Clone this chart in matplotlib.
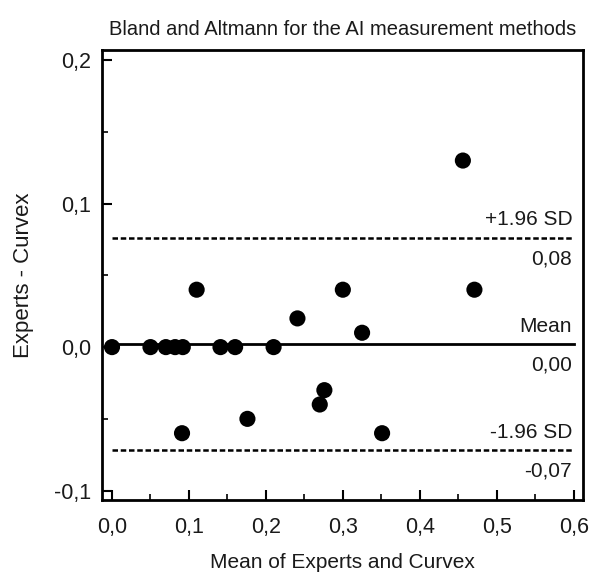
import numpy as np
import matplotlib.pyplot as plt
from matplotlib.ticker import FuncFormatter, MultipleLocator

plt.rcParams['font.family'] = ['Liberation Sans', 'DejaVu Sans']

# Datos (media y diferencia)
media = [0.0, 0.05, 0.07, 0.082, 0.092, 0.11, 0.141, 0.16, 0.21, 0.241,
         0.30, 0.325, 0.471, 0.456, 0.091, 0.176, 0.270, 0.276, 0.351]
diferencia = [0.0, 0.0, 0.0, 0.0, 0.0, 0.04, 0.0, 0.0, 0.0, 0.02,
              0.04, 0.01, 0.04, 0.13, -0.06, -0.05, -0.04, -0.03, -0.06]

mean_diff = 0.002
upper_loa = 0.076
lower_loa = -0.072
line_span = [0.0, 0.6]

fig = plt.figure(figsize=(5.93, 5.82), dpi=100)
ax = fig.add_axes([0.172, 0.141, 0.811, 0.773])

ax.scatter(media, diferencia, s=135, color='black', zorder=3, edgecolors='none')
ax.plot(line_span, [mean_diff, mean_diff], color='black', lw=2)
ax.plot(line_span, [upper_loa, upper_loa], color='black', lw=1.8, ls=(0, (2.2, 1.1)))
ax.plot(line_span, [lower_loa, lower_loa], color='black', lw=1.8, ls=(0, (2.2, 1.1)))

# Etiquetas de las líneas
kw = dict(ha='right', fontsize=15, color='#1a1a1a')
ax.text(0.598, upper_loa + 0.006, "+1.96 SD", va='bottom', **kw)
ax.text(0.598, upper_loa - 0.008, "0,08", va='top', **kw)
ax.text(0.598, mean_diff + 0.006, "Mean", va='bottom', **kw)
ax.text(0.598, mean_diff - 0.008, "0,00", va='top', **kw)
ax.text(0.598, lower_loa + 0.006, "-1.96 SD", va='bottom', **kw)
ax.text(0.598, lower_loa - 0.008, "-0,07", va='top', **kw)

ax.set_xlim(-0.013, 0.612)
ax.set_ylim(-0.1065, 0.207)
ax.xaxis.set_major_locator(MultipleLocator(0.1))
ax.xaxis.set_minor_locator(MultipleLocator(0.05))
ax.yaxis.set_major_locator(MultipleLocator(0.1))
ax.yaxis.set_minor_locator(MultipleLocator(0.05))
coma = FuncFormatter(lambda v, p: f"{v:.1f}".replace('.', ',').replace('-0,0', '0,0'))
ax.xaxis.set_major_formatter(coma)
ax.yaxis.set_major_formatter(coma)
ax.tick_params(which='major', direction='in', length=7, width=1.5, labelsize=15.5,
               labelcolor='#1a1a1a')
ax.tick_params(axis='x', which='major', pad=12)
ax.tick_params(axis='y', which='major', pad=8)
ax.tick_params(which='minor', direction='in', length=4, width=1.2)
for s in ax.spines.values():
    s.set_linewidth(2)

ax.set_title("Bland and Altmann for the AI measurement methods", fontsize=14.5,
             color='#1a1a1a', pad=11)
ax.set_xlabel("Mean of Experts and Curvex", fontsize=15, color='#1a1a1a', labelpad=11)
ax.set_ylabel("Experts - Curvex", fontsize=16, color='#1a1a1a', labelpad=14)

plt.savefig("out.png", dpi=100)
